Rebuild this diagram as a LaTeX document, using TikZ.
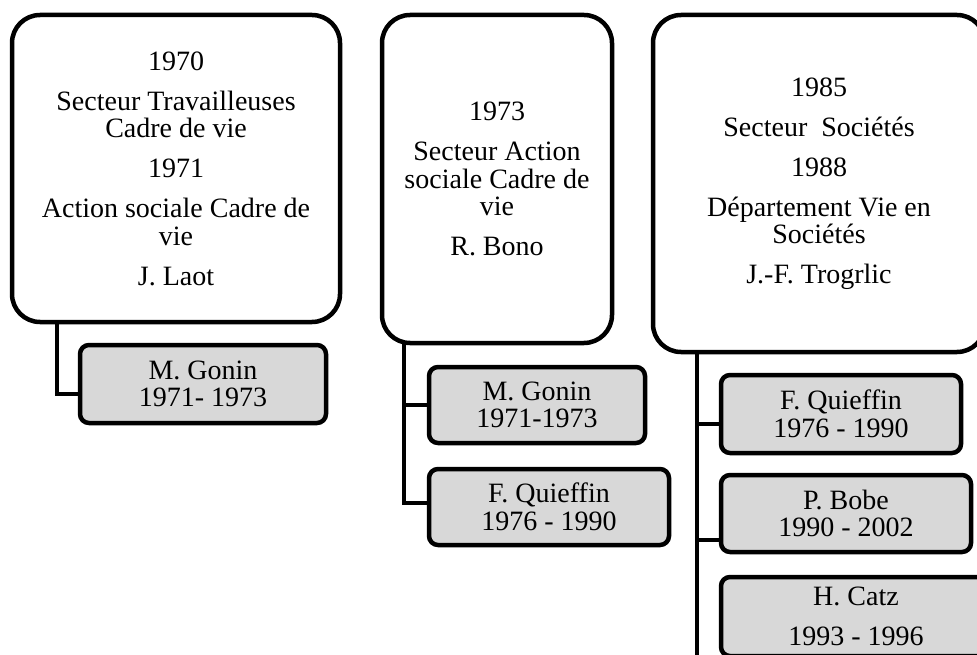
\documentclass[tikz,border=0pt]{standalone}
\usepackage{fontspec}
\setmainfont{Liberation Serif}
\begin{document}
\begin{tikzpicture}[x=1pt,y=-1pt,
  bigbox/.style={draw=black, line width=4.5pt, fill=white, rounded corners=28pt,
    inner sep=0pt, outer sep=0pt, align=center,
    font=\fontsize{28}{27.5}\selectfont},
  subbox/.style={draw=black, line width=4.5pt, fill=boxgray, rounded corners=9pt,
    inner sep=0pt, outer sep=0pt, align=center,
    font=\fontsize{28}{27.5}\selectfont},
  link/.style={draw=black, line width=4.5pt}]
\definecolor{boxgray}{HTML}{D8D8D8}
\useasboundingbox (0,0) rectangle (977,655);
\clip (0,0) rectangle (977,655);
% main boxes
\node[bigbox, minimum width=328pt, minimum height=307pt] (b1) at (176,168.5)
  {1970\\[12.5pt]Secteur Travailleuses\\Cadre de vie\\[12.5pt]1971\\[12.5pt]Action sociale Cadre de\\vie\\[12.5pt]J. Laot};
\node[bigbox, minimum width=230pt, minimum height=328pt] (b2) at (497,179)
  {1973\\[12.5pt]Secteur Action\\sociale Cadre de\\vie\\[12.5pt]R. Bono};
\node[bigbox, minimum width=332pt, minimum height=337pt] (b3) at (819,183.5)
  {1985\\[12.5pt]Secteur\ \ Sociétés\\[12.5pt]1988\\[12.5pt]Département Vie en\\Sociétés\\[12.5pt]J.-F. Trogrlic};
% sub boxes
\node[subbox, minimum width=246pt, minimum height=78pt] (c11) at (203,384) {M. Gonin\\1971- 1973};
\node[subbox, minimum width=216pt, minimum height=76pt] (c21) at (537,405) {M. Gonin\\1971-1973};
\node[subbox, minimum width=240pt, minimum height=76pt] (c22) at (549,507) {F. Quieffin\\1976 - 1990};
\node[subbox, minimum width=240pt, minimum height=78pt] (c31) at (841,414) {F. Quieffin\\1976 - 1990};
\node[subbox, minimum width=250pt, minimum height=77pt] (c32) at (846,513.5) {P. Bobe\\1990 - 2002};
\node[subbox, minimum width=270pt, minimum height=79pt] (c33) at (856,616.5) {H. Catz\\[12.5pt]1993 - 1996};
% connectors
\coordinate (e3) at (697,660);
\draw[link] ([xshift=45pt]b1.south west) |- ([yshift=-10pt]c11.west);
\draw[link] ([xshift=22pt]b2.south west) |- (c21.west);
\draw[link] ([xshift=22pt]b2.south west) |- ([yshift=4pt]c22.west);
\draw[link] ([xshift=44pt]b3.south west) -- (e3);
\draw[link] ([xshift=44pt]b3.south west |- c31.west) ++(0,10) -- ([yshift=-10pt]c31.west);
\draw[link] ([xshift=44pt]b3.south west |- c32.west) ++(0,26.5) -- ([yshift=-26.5pt]c32.west);
\end{tikzpicture}
\end{document}
